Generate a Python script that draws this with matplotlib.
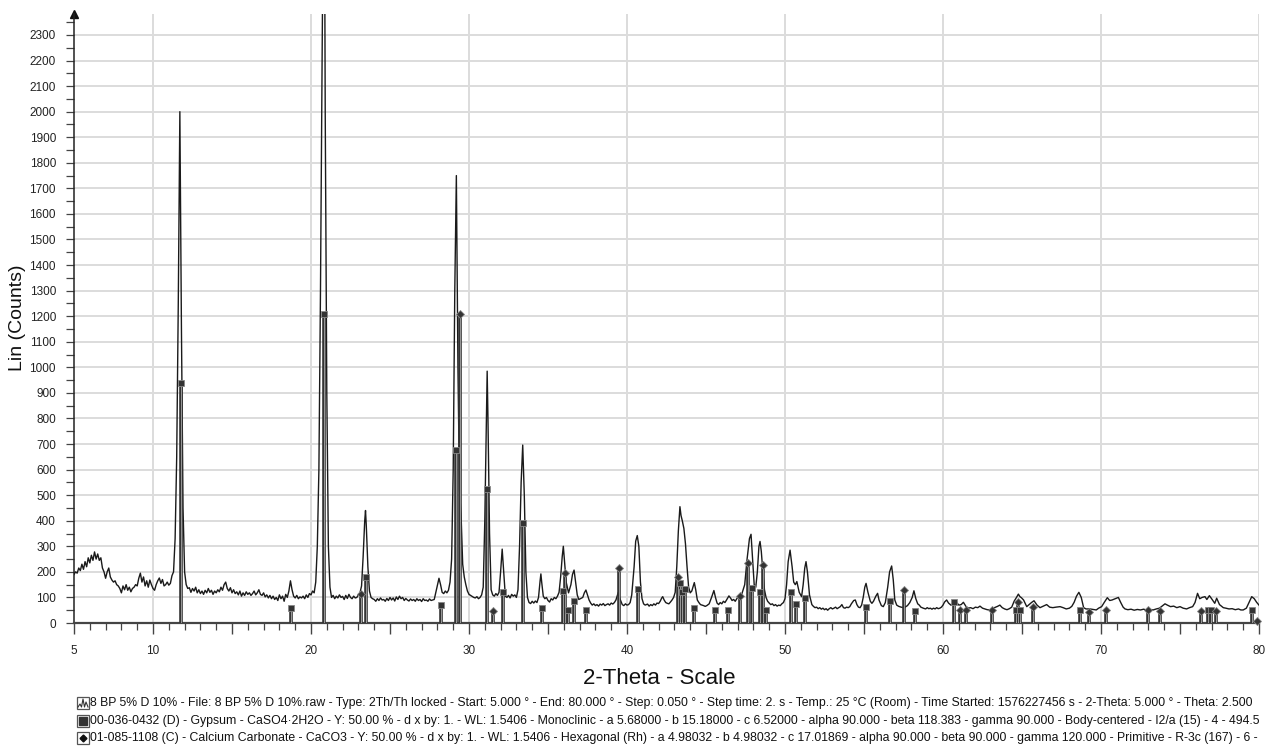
import matplotlib
matplotlib.use('Agg')
import matplotlib.pyplot as plt
from matplotlib.patches import Rectangle
from matplotlib.lines import Line2D
from matplotlib.ticker import MultipleLocator, FixedLocator

plt.rcParams['font.family'] = ['Liberation Sans', 'DejaVu Sans']

two_theta = [
    5.0, 5.1, 5.2, 5.3, 5.4, 5.5, 5.6, 5.7, 5.8, 5.9, 6.0, 6.1, 6.2, 6.3, 6.4, 6.5, 6.6, 6.7, 6.8, 6.9,
    7.0, 7.1, 7.2, 7.3, 7.4, 7.5, 7.6, 7.7, 7.8, 7.9, 8.0, 8.1, 8.2, 8.3, 8.4, 8.5, 8.6, 8.7, 8.8, 8.9,
    9.0, 9.1, 9.2, 9.3, 9.4, 9.5, 9.6, 9.7, 9.8, 9.9, 10.0, 10.1, 10.2, 10.3, 10.4, 10.5, 10.6, 10.7, 10.8, 10.9,
    11.0, 11.1, 11.2, 11.3, 11.4, 11.5, 11.6, 11.7, 11.8, 11.9, 12.0,
    12.1, 12.2, 12.3, 12.4, 12.5, 12.6, 12.7, 12.8, 12.9, 13.0, 13.1, 13.2, 13.3, 13.4, 13.5, 13.6, 13.7, 13.8, 13.9,
    14.0, 14.1, 14.2, 14.3, 14.4, 14.5, 14.6, 14.7, 14.8, 14.9, 15.0, 15.1, 15.2, 15.3, 15.4, 15.5, 15.6, 15.7, 15.8, 15.9,
    16.0, 16.1, 16.2, 16.3, 16.4, 16.5, 16.6, 16.7, 16.8, 16.9, 17.0, 17.1, 17.2, 17.3, 17.4, 17.5, 17.6, 17.7, 17.8, 17.9,
    18.0, 18.1, 18.2, 18.3, 18.4, 18.5, 18.6, 18.7, 18.8, 18.9, 19.0, 19.1, 19.2, 19.3, 19.4, 19.5, 19.6, 19.7, 19.8, 19.9,
    20.0, 20.1, 20.2, 20.3, 20.4, 20.5, 20.6, 20.7, 20.8, 20.85, 20.9, 21.0, 21.1, 21.2,
    21.3, 21.4, 21.5, 21.6, 21.7, 21.8, 21.9, 22.0, 22.1, 22.2, 22.3, 22.4, 22.5, 22.6, 22.7, 22.8, 22.9,
    23.0, 23.1, 23.2, 23.3, 23.4, 23.45, 23.5, 23.6, 23.7, 23.8, 23.9,
    24.0, 24.1, 24.2, 24.3, 24.4, 24.5, 24.6, 24.7, 24.8, 24.9, 25.0, 25.1, 25.2, 25.3, 25.4, 25.5, 25.6, 25.7, 25.8, 25.9,
    26.0, 26.1, 26.2, 26.3, 26.4, 26.5, 26.6, 26.7, 26.8, 26.9, 27.0, 27.1, 27.2, 27.3, 27.4, 27.5, 27.6, 27.7, 27.8, 27.9,
    28.0, 28.1, 28.2, 28.3, 28.4, 28.5, 28.6, 28.7, 28.8, 28.9, 29.0, 29.1, 29.2, 29.3, 29.4, 29.5, 29.6, 29.7, 29.8, 29.9,
    30.0, 30.1, 30.2, 30.3, 30.4, 30.5, 30.6, 30.7, 30.8, 30.9, 31.0, 31.1, 31.15, 31.2, 31.3, 31.4, 31.5, 31.6, 31.7, 31.8, 31.9,
    32.0, 32.1, 32.2, 32.3, 32.4, 32.5, 32.6, 32.7, 32.8, 32.9, 33.0, 33.1, 33.2, 33.3, 33.4, 33.5, 33.6, 33.7, 33.8, 33.9,
    34.0, 34.1, 34.2, 34.3, 34.4, 34.5, 34.55, 34.6, 34.7, 34.8, 34.9, 35.0, 35.1, 35.2, 35.3, 35.4, 35.5, 35.6, 35.7, 35.8, 35.9,
    35.97, 36.05, 36.15, 36.3, 36.45, 36.55, 36.65, 36.75, 36.85, 36.95, 37.05, 37.2, 37.3, 37.4, 37.5, 37.6, 37.7, 37.8, 37.9,
    38.0, 38.1, 38.2, 38.3, 38.4, 38.5, 38.6, 38.7, 38.8, 38.9, 39.0, 39.1, 39.2, 39.3, 39.45, 39.55, 39.7, 39.8, 39.9,
    40.0, 40.1, 40.2, 40.3, 40.45, 40.55, 40.65, 40.75, 40.85, 40.95, 41.05, 41.15, 41.3, 41.4, 41.5, 41.6, 41.7, 41.8, 41.9,
    42.0, 42.1, 42.2, 42.26, 42.35, 42.45, 42.55, 42.65, 42.75, 42.85, 42.95, 43.05, 43.15, 43.25, 43.35, 43.42, 43.5, 43.6, 43.7, 43.8, 43.9,
    44.0, 44.1, 44.26, 44.35, 44.45, 44.55, 44.65, 44.75, 44.85, 44.95, 45.05, 45.2, 45.35, 45.5, 45.6, 45.7, 45.8, 45.9,
    46.0, 46.1, 46.2, 46.3, 46.45, 46.55, 46.65, 46.75, 46.85, 46.95, 47.05, 47.15, 47.25, 47.35, 47.45, 47.6, 47.75, 47.85, 47.95,
    48.05, 48.15, 48.25, 48.35, 48.42, 48.5, 48.6, 48.7, 48.8, 48.9, 49.0, 49.1, 49.2, 49.3, 49.4, 49.5, 49.6, 49.7, 49.8, 49.9,
    50.0, 50.1, 50.2, 50.32, 50.45, 50.55, 50.65, 50.75, 50.9, 51.05, 51.15, 51.25, 51.33, 51.42, 51.55, 51.7, 51.8, 51.9,
    52.0, 52.1, 52.2, 52.3, 52.4, 52.5, 52.6, 52.7, 52.8, 52.9, 53.0, 53.1, 53.2, 53.3, 53.4, 53.5, 53.6, 53.7, 53.8, 53.9,
    54.0, 54.1, 54.2, 54.35, 54.45, 54.55, 54.65, 54.75, 54.85, 54.95, 55.05, 55.13, 55.25, 55.4, 55.5, 55.6, 55.75, 55.86, 55.95,
    56.1, 56.22, 56.35, 56.5, 56.62, 56.75, 56.85, 56.95, 57.07, 57.2, 57.35, 57.5, 57.6, 57.75, 57.9, 58.05, 58.16, 58.28, 58.4,
    58.5, 58.6, 58.75, 58.9, 59.0, 59.1, 59.2, 59.3, 59.4, 59.5, 59.6, 59.7, 59.8, 59.9,
    60.0, 60.1, 60.23, 60.35, 60.5, 60.65, 60.86, 61.0, 61.15, 61.29, 61.45, 61.6, 61.75, 61.9,
    62.05, 62.2, 62.34, 62.5, 62.65, 62.8, 62.97, 63.1, 63.25, 63.45, 63.6, 63.75, 63.9,
    64.05, 64.2, 64.35, 64.5, 64.65, 64.77, 64.87, 64.96, 65.1, 65.3, 65.45, 65.6, 65.76, 65.95,
    66.14, 66.35, 66.56, 66.75, 66.95, 67.15, 67.41, 67.6, 67.8, 68.0, 68.15, 68.3, 68.45, 68.6, 68.75, 68.9,
    69.05, 69.3, 69.5, 69.7, 69.85, 70.04, 70.2, 70.4, 70.55, 70.7, 70.9, 71.1, 71.25, 71.4, 71.52, 71.7, 71.9,
    72.1, 72.3, 72.5, 72.7, 72.9, 73.1, 73.3, 73.5, 73.7, 73.9, 74.05, 74.2, 74.4, 74.6, 74.8,
    75.0, 75.2, 75.42, 75.6, 75.8, 75.95, 76.11, 76.25, 76.4, 76.58, 76.7, 76.86, 77.0, 77.2, 77.32, 77.5, 77.74, 77.9,
    78.1, 78.3, 78.5, 78.7, 78.85, 79.0, 79.2, 79.4, 79.54, 79.7, 79.85, 80.0,
]
counts = [
    190, 200, 195, 215, 205, 230, 210, 240, 220, 255, 235, 265, 245, 278, 250, 270, 245, 255, 215, 200,
    175, 200, 215, 180, 168, 160, 165, 150, 145, 135, 118, 145, 130, 150, 128, 140, 122, 135, 140, 150,
    145, 175, 195, 160, 180, 145, 165, 140, 168, 150, 135, 128, 150, 165, 176, 155, 170, 145, 150, 160,
    148, 155, 185, 200, 330, 650, 1250, 2000, 1150, 450, 200,
    150, 135, 138, 120, 135, 125, 140, 118, 130, 115, 125, 112, 128, 118, 135, 120, 128, 112, 125,
    118, 130, 122, 140, 128, 150, 160, 135, 125, 138, 118, 130, 115, 122, 110, 125, 105, 118, 108, 122,
    112, 118, 108, 115, 125, 110, 118, 130, 112, 108, 118, 102, 110, 98, 108, 95, 105, 92, 100, 88,
    110, 95, 105, 85, 112, 100, 125, 165, 130, 105, 98, 108, 95, 102, 98, 105, 95, 110, 100, 115,
    110, 125, 118, 160, 300, 600, 1300, 2200, 3000, 2900, 2000, 900, 300, 140,
    100, 108, 95, 105, 98, 110, 100, 104, 92, 108, 96, 112, 100, 95, 105, 98, 100,
    110, 118, 145, 260, 400, 440, 380, 220, 125, 100, 95,
    92, 85, 95, 88, 98, 90, 92, 85, 96, 88, 100, 90, 98, 86, 102, 92, 105, 95, 100, 88,
    96, 90, 86, 94, 88, 92, 85, 95, 88, 92, 84, 95, 88, 90, 85, 94, 88, 90, 92, 120,
    150, 175, 150, 120, 115, 125, 118, 128, 160, 250, 600, 1300, 1750, 1000, 520, 420, 230, 180, 150, 125,
    112, 108, 104, 100, 98, 103, 95, 100, 110, 140, 400, 800, 985, 800, 350, 130, 110, 105, 115, 108, 120,
    200, 289, 200, 105, 100, 108, 98, 112, 105, 110, 100, 130, 300, 550, 696, 500, 200, 100, 80, 76,
    85, 78, 86, 80, 100, 165, 192, 160, 105, 95, 100, 88, 82, 95, 90, 100, 95, 105, 120, 180, 260,
    300, 240, 160, 118, 150, 190, 207, 160, 110, 92, 95, 100, 118, 129, 110, 90, 78, 70, 75,
    68, 72, 66, 74, 70, 76, 68, 72, 75, 70, 78, 74, 80, 90, 120, 95, 72, 68, 75,
    70, 72, 80, 110, 220, 320, 342, 300, 160, 95, 75, 70, 74, 66, 72, 68, 75, 70, 78,
    76, 85, 98, 103, 90, 80, 77, 75, 82, 90, 100, 120, 220, 360, 455, 420, 400, 370, 310, 220, 140,
    118, 125, 158, 130, 90, 80, 72, 70, 68, 65, 68, 75, 100, 127, 100, 78, 72, 80,
    75, 85, 80, 90, 106, 98, 88, 92, 85, 95, 105, 100, 110, 130, 150, 250, 330, 347, 250,
    150, 140, 200, 300, 319, 280, 200, 130, 100, 85, 78, 72, 75, 68, 72, 66, 70, 68, 75, 80,
    95, 150, 240, 285, 220, 160, 150, 162, 120, 103, 150, 215, 240, 200, 110, 72, 65, 60,
    62, 56, 60, 54, 58, 52, 56, 50, 56, 60, 55, 58, 62, 56, 60, 64, 72, 60, 58, 62,
    60, 64, 75, 88, 90, 72, 62, 60, 70, 100, 140, 155, 120, 85, 77, 85, 105, 116, 90,
    68, 64, 80, 140, 200, 223, 170, 90, 70, 65, 62, 60, 62, 68, 80, 100, 126, 95, 75,
    70, 62, 58, 55, 60, 56, 58, 54, 58, 55, 60, 56, 58, 62,
    70, 82, 90, 78, 70, 75, 81, 70, 72, 81, 65, 58, 60, 56,
    62, 60, 66, 58, 55, 52, 51, 56, 60, 65, 70, 60, 55,
    52, 56, 62, 85, 100, 113, 103, 99, 90, 64, 72, 80, 87, 70,
    60, 66, 72, 62, 60, 62, 64, 60, 55, 58, 65, 81, 105, 120, 100, 60,
    55, 55, 53, 51, 58, 64, 80, 99, 88, 90, 95, 100, 80, 62, 55, 52, 54,
    50, 53, 51, 54, 50, 53, 51, 55, 58, 68, 75, 70, 64, 66, 60,
    64, 58, 55, 60, 64, 80, 116, 95, 100, 103, 92, 107, 95, 77, 97, 72, 60, 58,
    55, 56, 52, 55, 51, 51, 58, 85, 103, 95, 81, 70,
]

# 00-036-0432 (D) Gypsum reference sticks
gypsum_pos = [11.77, 18.73, 20.82, 23.50, 28.20, 29.15, 31.12, 32.13, 33.44, 34.62,
              35.93, 36.28, 36.66, 37.41, 40.67, 43.35, 43.50, 43.67, 44.24, 45.55,
              46.37, 47.91, 48.42, 48.78, 50.37, 50.71, 51.29, 55.12, 56.67, 58.23,
              60.71, 64.62, 64.90, 68.67, 76.75, 76.95, 79.54]
gypsum_int = [938, 59, 1210, 178, 72, 678, 523, 120, 393, 60,
              125, 50, 86, 50, 133, 156, 120, 132, 60, 50,
              50, 136, 122, 50, 120, 73, 97, 62, 88, 48,
              83, 51, 51, 51, 51, 51, 50]

# 01-085-1108 (C) Calcium Carbonate reference sticks
calcite_pos = [23.14, 29.45, 31.55, 36.05, 39.48, 43.25, 47.18, 47.64, 48.63, 57.50,
               61.08, 61.46, 63.12, 64.77, 65.72, 69.26, 70.34, 73.00, 73.75, 76.35,
               77.28, 79.90]
calcite_int = [113, 1210, 47, 194, 216, 181, 105, 236, 227, 130,
               52, 52, 50, 83, 64, 43, 50, 49, 45, 45,
               48, 8]

x_ticks = [5, 10, 20, 30, 40, 50, 60, 70, 80]
y_ticks = list(range(0, 2400, 100))

legend_rows = [
    ("scan", "8 BP 5% D 10% - File: 8 BP 5% D 10%.raw - Type: 2Th/Th locked - Start: 5.000 \u00b0 - End: 80.000 \u00b0 - Step: 0.050 \u00b0 - Step time: 2. s - Temp.: 25 \u00b0C (Room) - Time Started: 1576227456 s - 2-Theta: 5.000 \u00b0 - Theta: 2.500"),
    ("square", "00-036-0432 (D) - Gypsum - CaSO4\u00b72H2O - Y: 50.00 % - d x by: 1. - WL: 1.5406 - Monoclinic - a 5.68000 - b 15.18000 - c 6.52000 - alpha 90.000 - beta 118.383 - gamma 90.000 - Body-centered - I2/a (15) - 4 - 494.5"),
    ("diamond", "01-085-1108 (C) - Calcium Carbonate - CaCO3 - Y: 50.00 % - d x by: 1. - WL: 1.5406 - Hexagonal (Rh) - a 4.98032 - b 4.98032 - c 17.01869 - alpha 90.000 - beta 90.000 - gamma 120.000 - Primitive - R-3c (167) - 6 -"),
]

W, H = 1273, 747
fig = plt.figure(figsize=(W / 100, H / 100), dpi=100)
ax = fig.add_axes([74 / W, 1 - 623 / H, (1259 - 74) / W, (623 - 14) / H])

ax.set_xlim(5, 80)
ax.set_ylim(0, 2382)

# grid
for gx in [10, 20, 30, 40, 50, 60, 70, 80]:
    ax.axvline(gx, color='#dcdcdc', lw=1.4, zorder=0)
for gy in y_ticks[1:]:
    ax.axhline(gy, color='#dcdcdc', lw=1.4, zorder=0)

# scan
ax.plot(two_theta, counts, color='#1a1a1a', lw=1.0, zorder=3)

# reference sticks
def draw_sticks(pos, inten, marker, msize):
    ax.vlines(pos, 0, inten, color='#333333', lw=2.6, zorder=4)
    ax.vlines(pos, 0, inten, color='#9a9a9a', lw=0.7, zorder=5)
    ax.plot(pos, inten, ls='none', marker=marker, ms=msize, mfc='#333333',
            mec='#888888', mew=0.6, zorder=6, clip_on=False)

draw_sticks(gypsum_pos, gypsum_int, 's', 5)
draw_sticks(calcite_pos, calcite_int, 'D', 4)

# axes styling
for s in ['top', 'right']:
    ax.spines[s].set_visible(False)
ax.spines['left'].set_color('#222222')
ax.spines['left'].set_linewidth(1.1)
ax.spines['bottom'].set_color('#444444')
ax.spines['bottom'].set_linewidth(1.6)
ax.plot([0], [1], marker='^', ms=6, color='#111111', transform=ax.transAxes, clip_on=False)

ax.yaxis.set_major_locator(FixedLocator(y_ticks))
ax.yaxis.set_minor_locator(MultipleLocator(50))
ax.set_yticklabels([str(v) for v in y_ticks])
ax.tick_params(axis='y', which='both', direction='out', length=6, width=0.9,
               color='#444444', labelsize=8.5, pad=7, labelcolor='#222222')

major_x = [5, 10, 15, 20, 25, 30, 35, 40, 45, 50, 55, 60, 65, 70, 75, 80]
ax.xaxis.set_major_locator(FixedLocator(major_x))
ax.xaxis.set_minor_locator(MultipleLocator(1))
ax.set_xticklabels([str(v) if v in x_ticks else '' for v in major_x])
ax.tick_params(axis='x', which='major', direction='out', length=8, width=1.0,
               color='#444444', labelsize=8.5, pad=8, labelcolor='#222222')
ax.tick_params(axis='x', which='minor', direction='out', length=5, width=0.9, color='#444444')

fig.text(18 / W, 1 - 318 / H, 'Lin (Counts)', rotation=90, ha='center', va='center',
         fontsize=14, color='#111111')
fig.text(659 / W, 1 - 678 / H, '2-Theta - Scale', ha='center', va='center',
         fontsize=16, color='#111111')

# legend rows at the bottom
row_y = [703, 721, 738]
for (kind, txt), yp in zip(legend_rows, row_y):
    x0, s = 77, 12
    fig.patches.append(Rectangle((x0 / W, 1 - (yp + s / 2) / H), s / W, s / H,
                                 transform=fig.transFigure, fill=False,
                                 ec='#555555', lw=0.9))
    cx, cy = (x0 + s / 2) / W, 1 - yp / H
    if kind == 'scan':
        xs = [x0 + 1, x0 + 3, x0 + 4.5, x0 + 6, x0 + 7.5, x0 + 9, x0 + 11]
        ys = [yp + 4, yp + 1, yp + 4, yp - 4, yp + 4, yp - 1, yp + 4]
        fig.lines.append(Line2D([v / W for v in xs], [1 - v / H for v in ys],
                                transform=fig.transFigure, color='#333333', lw=0.8))
    elif kind == 'square':
        fig.lines.append(Line2D([cx], [cy], marker='s', ms=6, color='#333333',
                                transform=fig.transFigure))
    else:
        fig.lines.append(Line2D([cx], [cy], marker='D', ms=3.5, color='#111111',
                                transform=fig.transFigure))
    fig.text(90 / W, 1 - yp / H, txt, ha='left', va='center', fontsize=8.8, color='#111111')

fig.savefig('out.png', dpi=100)
